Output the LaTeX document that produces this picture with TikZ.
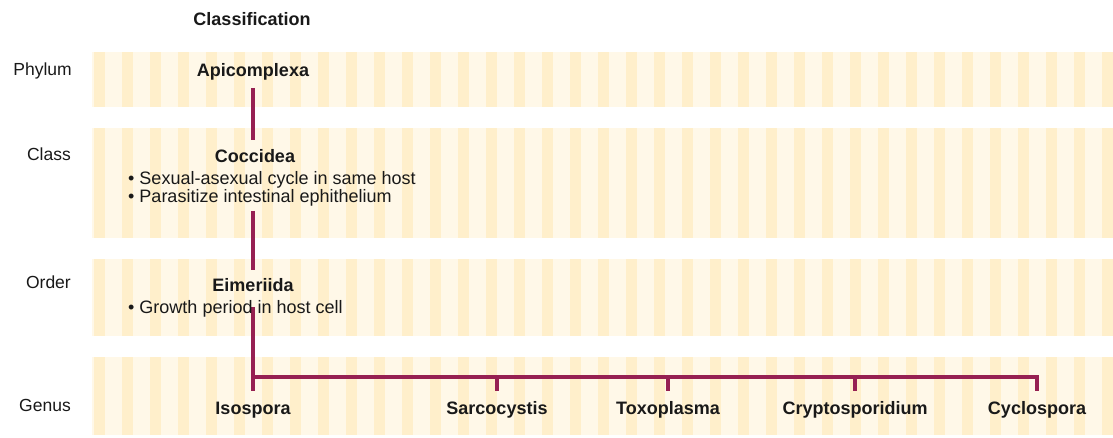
\documentclass[tikz,border=0pt]{standalone}
\usepackage{fontspec}
\setmainfont{Liberation Sans}
\usetikzlibrary{backgrounds}
\definecolor{trunkc}{RGB}{150,32,82}
\definecolor{bandbase}{RGB}{255,248,232}
\definecolor{bandstripe}{RGB}{255,239,203}
\definecolor{ink}{RGB}{25,25,25}
\begin{document}
\begin{tikzpicture}[x=1pt,y=-1pt,
  rank/.style={font=\fontsize{17.5}{20}\selectfont, text=ink, anchor=base east, inner sep=0pt},
  taxon/.style={font=\bfseries\fontsize{18}{20}\selectfont, text=ink, anchor=base, inner sep=0pt},
  trait/.style={font=\fontsize{18}{20}\selectfont, text=ink, anchor=base west, inner sep=0pt},
  trunk/.style={draw=trunkc, line width=4pt},
]
\useasboundingbox (0,0) rectangle (1113,437);

% titles and ranks
\node[taxon] (title) at (252,25) {Classification};
\node[rank] (phylum) at (72,75) {Phylum};
\node[rank] (class) at (71,160) {Class};
\node[rank] (order) at (71,288) {Order};
\node[rank] (genus) at (71,411) {Genus};

% taxa
\node[taxon] (apic) at (253,76) {Apicomplexa};
\node[taxon] (cocc) at (255,162) {Coccidea};
\node[trait] (b1) at (128,184) {• Sexual-asexual cycle in same host};
\node[trait] (b2) at (128,202) {• Parasitize intestinal ephithelium};
\node[taxon] (eim) at (253,291) {Eimeriida};
\node[trait] (b3) at (128,313) {• Growth period in host cell};

\node[taxon] (iso) at (253,414) {Isospora};
\node[taxon] (sarc) at (497,414) {Sarcocystis};
\node[taxon] (toxo) at (668,414) {Toxoplasma};
\node[taxon] (crypto) at (855,414) {Cryptosporidium};
\node[taxon] (cyclo) at (1037,414) {Cyclospora};

\coordinate (t1) at (apic.south |- cocc.north);
\coordinate (t2) at (eim.north |- b2.south);
\coordinate (t4) at (iso.north |- b3.base);
\coordinate (hb) at ([yshift=24pt]iso.north);
\coordinate (tk) at ([yshift=10pt]iso.north);

\begin{pgfonlayer}{background}
  \fill[white] (0,0) rectangle (1113,437);
  \foreach \ya/\yb in {52/107,128/238,259/336,357/435}{
    \fill[bandbase] (92,\ya) rectangle (1113,\yb);
    \foreach \s in {0,...,36}{
      \fill[bandstripe] ({94+\s*28},\ya) rectangle ({min(1113,105+\s*28)},\yb);
    }
  }
  \draw[trunk] ([yshift=-8pt]apic.south) -- ([yshift=9pt]t1);
  \draw[trunk] ([yshift=-5pt]t2) -- ([yshift=8pt]eim.north);
  \draw[trunk] ([yshift=6pt]t4) -- ([yshift=10pt]iso.north);
  \draw[trunk] (hb) -- (hb -| cyclo) -- (tk -| cyclo);
  \foreach \g in {sarc,toxo,crypto}{
    \draw[trunk] (hb -| \g) -- (tk -| \g);
  }
\end{pgfonlayer}
\end{tikzpicture}
\end{document}
